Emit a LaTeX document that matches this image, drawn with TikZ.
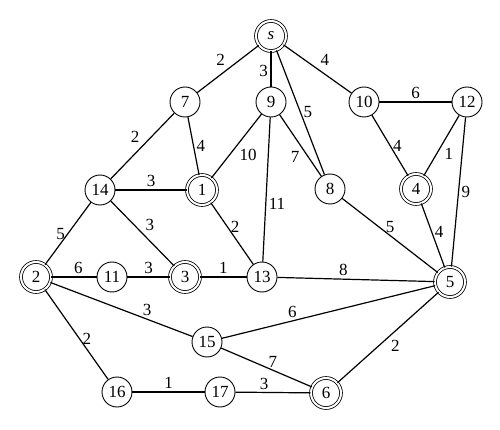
\documentclass[tikz,border=0pt]{standalone}
\usepackage{fontspec}
\setmainfont{Liberation Serif}
\usetikzlibrary{positioning}

\begin{document}
\begin{tikzpicture}[
    x=1pt, y=-1pt,
    vtx/.style={circle, draw, line width=0.9pt, minimum size=30pt, inner sep=0pt,
                font=\fontsize{17}{19}\selectfont},
    dvtx/.style={vtx, double, double distance=2pt, line width=0.8pt},
    edge/.style={line width=1.2pt},
    wt/.style={font=\fontsize{17}{19}\selectfont, inner sep=2.5pt},
]
    \useasboundingbox (0,0) rectangle (500,430);

    % vertices
    \node[dvtx] (s)  at (271,36)  {\textit{s}};
    \node[vtx]  (n7)  at (185,102) {7};
    \node[vtx]  (n9)  at (271,102) {9};
    \node[vtx]  (n10) at (364,102) {10};
    \node[vtx]  (n12) at (467,102) {12};
    \node[vtx]  (n14) at (100,190) {14};
    \node[dvtx] (n1)  at (202,190) {1};
    \node[vtx]  (n8)  at (330,189) {8};
    \node[dvtx] (n4)  at (416,189) {4};
    \node[dvtx] (n2)  at (36,277)  {2};
    \node[vtx]  (n11) at (112,277) {11};
    \node[dvtx] (n3)  at (185,277) {3};
    \node[vtx]  (n13) at (262,277) {13};
    \node[dvtx] (n5)  at (450,282) {5};
    \node[vtx]  (n15) at (207,342) {15};
    \node[vtx]  (n16) at (117,392) {16};
    \node[vtx]  (n17) at (220,392) {17};
    \node[dvtx] (n6)  at (326,393) {6};

    % weighted edges
    \draw[edge] (s) -- node[wt, above left] {2} (n7);
    \draw[edge] (s) -- node[wt, left, pos=0.55] {3} (n9);
    \draw[edge] (s) -- node[wt, right] {5} (n8);
    \draw[edge] (s) -- node[wt, above right] {4} (n10);
    \draw[edge] (n7) -- node[wt, above left] {2} (n14);
    \draw[edge] (n7) -- node[wt, right] {4} (n1);
    \draw[edge] (n9) -- node[wt, below right] {10} (n1);
    \draw[edge] (n9) -- node[wt, below left, pos=0.55] {7} (n8);
    \draw[edge] (n9) -- node[wt, right, pos=0.6] {11} (n13);
    \draw[edge] (n10) -- node[wt, above] {6} (n12);
    \draw[edge] (n10) -- node[wt, right] {4} (n4);
    \draw[edge] (n12) -- node[wt, below right] {1} (n4);
    \draw[edge] (n12) -- node[wt, right] {9} (n5);
    \draw[edge] (n8) -- node[wt, above] {5} (n5);
    \draw[edge] (n4) -- node[wt, right, pos=0.45] {4} (n5);
    \draw[edge] (n14) -- node[wt, above] {3} (n1);
    \draw[edge] (n14) -- node[wt, above right] {3} (n3);
    \draw[edge] (n14) -- node[wt, left] {5} (n2);
    \draw[edge] (n1) -- node[wt, right, pos=0.4] {2} (n13);
    \draw[edge] (n2) -- node[wt, above, pos=0.6] {6} (n11);
    \draw[edge] (n11) -- node[wt, above] {3} (n3);
    \draw[edge] (n3) -- node[wt, above] {1} (n13);
    \draw[edge] (n13) -- node[wt, above, pos=0.42] {8} (n5);
    \draw[edge] (n2) -- node[wt, above, pos=0.68] {3} (n15);
    \draw[edge] (n2) -- node[wt, right, pos=0.55] {2} (n16);
    \draw[edge] (n15) -- node[wt, above, pos=0.33] {6} (n5);
    \draw[edge] (n15) -- node[wt, above, pos=0.57] {7} (n6);
    \draw[edge] (n16) -- node[wt, above] {1} (n17);
    \draw[edge] (n17) -- node[wt, above, pos=0.38] {3} (n6);
    \draw[edge] (n6) -- node[wt, below right] {2} (n5);
\end{tikzpicture}
\end{document}
